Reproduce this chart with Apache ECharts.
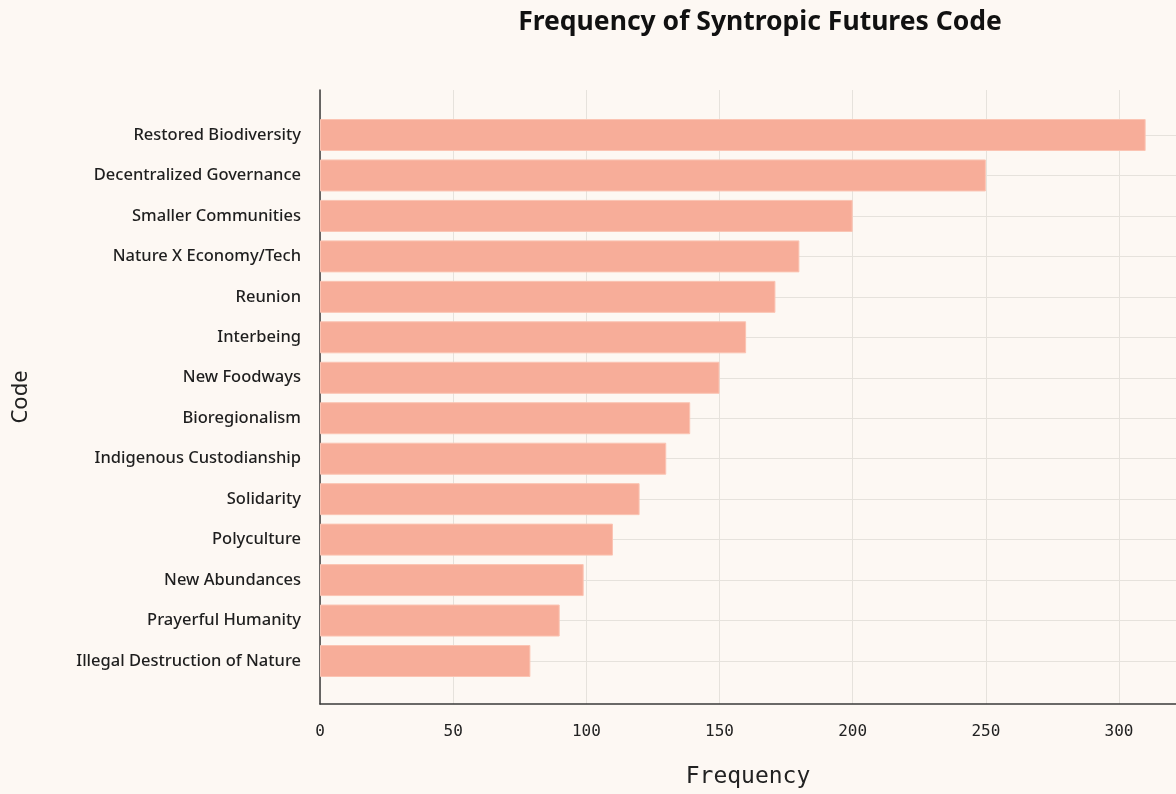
<!DOCTYPE html>
<html>
<head>
<meta charset="utf-8">
<title>Frequency of Syntropic Futures Code</title>
<script src="https://cdn.jsdelivr.net/npm/echarts@6/dist/echarts.min.js"></script>
<style>
  html, body { margin: 0; padding: 0; background: #fdf8f3; }
  #chart { width: 1176px; height: 794px; }
</style>
</head>
<body>
<div id="chart"></div>
<script>
// Codes, listed top to bottom
const codes = [
  'Restored Biodiversity',
  'Decentralized Governance',
  'Smaller Communities',
  'Nature X Economy/Tech',
  'Reunion',
  'Interbeing',
  'New Foodways',
  'Bioregionalism',
  'Indigenous Custodianship',
  'Solidarity',
  'Polyculture',
  'New Abundances',
  'Prayerful Humanity',
  'Illegal Destruction of Nature'
];
// How often each code appears
const frequencies = [310, 250, 200, 180, 171, 160, 150, 139, 130, 120, 110, 99, 90, 79];
// Frequency axis range and ticks
const freqMin = 0;
const freqMax = 321.4;
const freqStep = 50;

const chart = echarts.init(document.getElementById('chart'));

const gridLine = { show: true, lineStyle: { color: '#e6e2dc', width: 1 } };
const axisDark = { show: true, lineStyle: { color: '#3a3a3a', width: 1.5 } };
const left = 320, right = 0;

chart.setOption({
  backgroundColor: '#fdf8f3',
  animation: false,
  title: {
    text: 'Frequency of Syntropic Futures Code',
    left: 755,
    textAlign: 'center',
    top: 4,
    textStyle: { fontFamily: 'Noto Sans', fontWeight: 'bold', fontSize: 26.5, color: '#111111' }
  },
  grid: [
    // frame: axis lines, x ticks and vertical gridlines
    { left: left, right: right, top: 90, bottom: 84 },
    // bar band, inset from the frame
    { left: left, right: right, top: 135, bottom: 133 }
  ],
  xAxis: [
    {
      type: 'value', gridIndex: 0, min: freqMin, max: freqMax, interval: freqStep,
      name: 'Frequency', nameLocation: 'middle', nameGap: 62,
      nameTextStyle: { fontFamily: 'DejaVu Sans Mono', fontSize: 23, color: '#222222' },
      axisLine: axisDark, axisTick: { show: false },
      axisLabel: { showMaxLabel: false, margin: 20, fontFamily: 'DejaVu Sans Mono', fontSize: 16, color: '#222222' },
      splitLine: gridLine
    },
    {
      type: 'value', gridIndex: 1, min: freqMin, max: freqMax, interval: freqStep,
      axisLine: { show: false }, axisTick: { show: false }, axisLabel: { show: false },
      splitLine: { show: false }
    }
  ],
  yAxis: [
    {
      type: 'value', gridIndex: 0, min: 0, max: 1,
      name: 'Code', nameLocation: 'middle', nameGap: 288,
      nameTextStyle: { fontFamily: 'Noto Sans', fontSize: 22, color: '#222222' },
      axisLine: axisDark, axisTick: { show: false }, axisLabel: { show: false },
      splitLine: { show: false }
    },
    {
      type: 'category', gridIndex: 1, data: codes, inverse: true, boundaryGap: false,
      axisLine: { show: false }, axisTick: { show: false },
      axisLabel: { margin: 19, fontFamily: 'Noto Sans', fontWeight: 500, fontSize: 16.5, color: '#1e1e1e' },
      splitLine: gridLine
    }
  ],
  series: [
    {
      type: 'bar', xAxisIndex: 1, yAxisIndex: 1, data: frequencies,
      barWidth: 32,
      itemStyle: { color: '#f7ad99', borderColor: '#fbc4b3', borderWidth: 1 }
    }
  ]
});
</script>
</body>
</html>
